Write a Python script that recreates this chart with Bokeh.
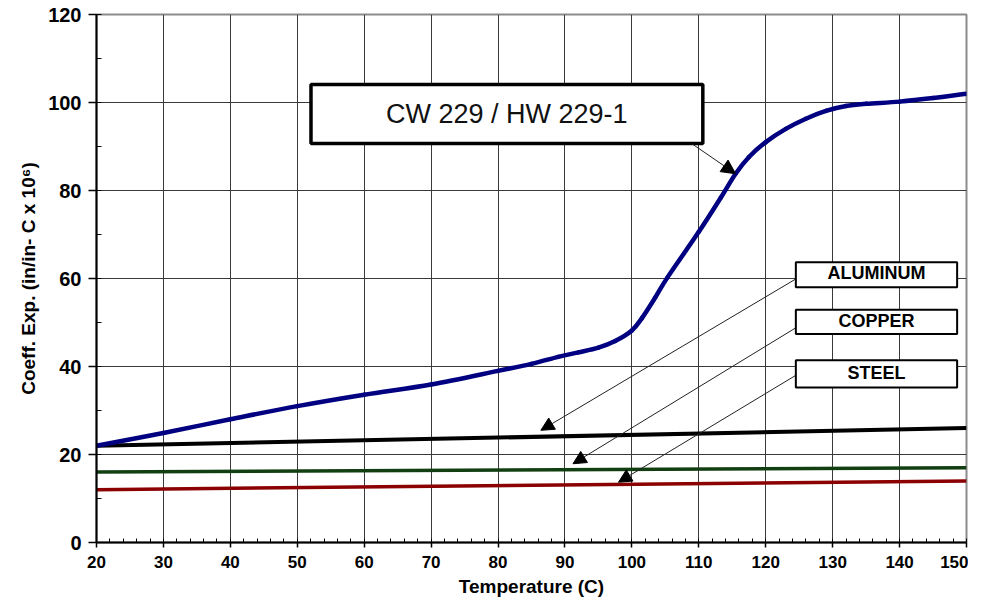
from bokeh.plotting import figure
from bokeh.models import (Range1d, SingleIntervalTicker, Arrow, NormalHead,
                          Label, BoxAnnotation)
from bokeh.embed import file_html
from bokeh.resources import INLINE

# ---- data ----
temp_cw = [20, 30, 40, 50, 60, 70, 80, 85, 89, 92, 95, 97.5, 100, 101.5, 103.5,
           105.3, 110, 113.3, 115.5, 117.5, 120, 123, 126, 129, 132, 135,
           140, 145, 150]
coef_cw = [22, 24.9, 28, 31, 33.6, 35.9, 39, 40.6, 42.2, 43.2, 44.3, 45.8, 48.2,
           51, 55.7, 60.2, 70.6, 78.4, 83.8, 87.6, 91, 94, 96.3, 98.1,
           99.2, 99.7, 100.2, 101.0, 102.0]
temp_metal = [20, 150]
coef_aluminum = [22, 26]
coef_copper = [16, 17]
coef_steel = [12, 14]

cw_label = "CW 229 / HW 229-1"
metal_labels = ["ALUMINUM", "COPPER", "STEEL"]
x_label = "Temperature (C)"
y_label = "Coeff. Exp. (in/in- C x 10\u2076)"

# ---- figure ----
p = figure(width=968, height=600, x_range=Range1d(20, 150), y_range=Range1d(0, 120),
           output_backend="svg", toolbar_location=None,
           min_border_left=96, min_border_right=2, min_border_top=14, min_border_bottom=58)
p.background_fill_color = "white"
p.border_fill_color = "white"
p.outline_line_color = "#8c8c8c"
p.outline_line_width = 2

p.xaxis.ticker = SingleIntervalTicker(interval=10, num_minor_ticks=5)
p.yaxis.ticker = SingleIntervalTicker(interval=20, num_minor_ticks=2)
p.xgrid.ticker = p.xaxis.ticker
p.ygrid.ticker = p.yaxis.ticker
for g in (p.xgrid, p.ygrid):
    g.grid_line_color = "#3a3a3a"
    g.grid_line_width = 1
    g.grid_line_alpha = 1.0

for ax in (p.xaxis, p.yaxis):
    ax.axis_line_color = "black"
    ax.axis_line_width = 2
    ax.major_tick_line_color = "black"
    ax.minor_tick_line_color = "black"
    ax.major_tick_line_width = 1.5
    ax.minor_tick_line_width = 1
    ax.major_label_text_font = "Liberation Sans"
    ax.axis_label_text_font = "Liberation Sans"
    ax.major_label_text_font_style = "bold"
    ax.axis_label_text_font_style = "bold"
    ax.major_label_text_color = "black"
    ax.axis_label_text_color = "black"

p.xaxis.major_tick_in = 0
p.xaxis.major_tick_out = 5
p.xaxis.minor_tick_in = 4
p.xaxis.minor_tick_out = 0
p.xaxis.major_label_text_font_size = "17px"
p.xaxis.major_label_standoff = 8
p.xaxis.axis_label = x_label
p.xaxis.axis_label_text_font_size = "19px"
p.xaxis.axis_label_standoff = 5

p.yaxis.major_tick_in = 0
p.yaxis.major_tick_out = 8
p.yaxis.minor_tick_in = 5
p.yaxis.minor_tick_out = 0
p.yaxis.major_label_text_font_size = "20px"
p.yaxis.major_label_standoff = 7
p.yaxis.axis_label = y_label
p.yaxis.axis_label_text_font_size = "19px"
p.yaxis.axis_label_standoff = 6

# ---- series ----
p.line(temp_metal, coef_steel, line_color="#8b0000", line_width=3.5)
p.line(temp_metal, coef_copper, line_color="#123f12", line_width=3.5)
p.line(temp_metal, coef_aluminum, line_color="black", line_width=4)

# smoothed line through the measured points (Catmull-Rom -> cubic Bezier)
n = len(temp_cw)
x0s, y0s, x1s, y1s, cx0s, cy0s, cx1s, cy1s = [], [], [], [], [], [], [], []
for i in range(n - 1):
    pa = (temp_cw[max(i - 1, 0)], coef_cw[max(i - 1, 0)])
    pb = (temp_cw[i], coef_cw[i])
    pc = (temp_cw[i + 1], coef_cw[i + 1])
    pd = (temp_cw[min(i + 2, n - 1)], coef_cw[min(i + 2, n - 1)])
    x0s.append(pb[0]); y0s.append(pb[1])
    x1s.append(pc[0]); y1s.append(pc[1])
    cx0s.append(pb[0] + (pc[0] - pa[0]) / 6.0)
    cy0s.append(pb[1] + (pc[1] - pa[1]) / 6.0)
    cx1s.append(pc[0] - (pd[0] - pb[0]) / 6.0)
    cy1s.append(pc[1] - (pd[1] - pb[1]) / 6.0)
p.bezier(x0=x0s, y0=y0s, x1=x1s, y1=y1s, cx0=cx0s, cy0=cy0s, cx1=cx1s, cy1=cy1s,
         line_color="#000080", line_width=4.5, line_cap="round")

# ---- annotations ----
p.add_layout(BoxAnnotation(left=52.05, right=110.6, bottom=90.7, top=104.1,
                           fill_color="white", fill_alpha=1.0,
                           line_color="black", line_alpha=1.0, line_width=3.5))
p.add_layout(Label(x=81.3, y=97.4, text=cw_label, text_align="center",
                   text_baseline="middle", text_font="Liberation Sans",
                   text_font_size="27px", text_color="#111111"))
p.add_layout(Arrow(x_start=109.0, y_start=90.6, x_end=115.5, y_end=83.8,
                   line_color="#222222", line_width=1,
                   end=NormalHead(size=14, fill_color="black", line_color="black")))

box_tops = [63.7, 52.9, 41.4]
box_bottoms = [58.0, 47.4, 35.2]
arrow_tips = [(86.4, 25.5), (91.2, 17.9), (98.0, 13.7)]
arrow_starts = [59.9, 48.8, 38.0]
for name, t, b, tip, ys in zip(metal_labels, box_tops, box_bottoms, arrow_tips, arrow_starts):
    p.add_layout(Arrow(x_start=124.5, y_start=ys, x_end=tip[0], y_end=tip[1],
                       line_color="#222222", line_width=1,
                       end=NormalHead(size=13, fill_color="black", line_color="black")))
    p.add_layout(BoxAnnotation(left=124.5, right=148.6, bottom=b, top=t,
                               fill_color="white", fill_alpha=1.0,
                               line_color="black", line_alpha=1.0, line_width=2))
    p.add_layout(Label(x=136.55, y=(t + b) / 2 + 0.3, text=name, text_align="center",
                       text_baseline="middle", text_font="Liberation Sans",
                       text_font_style="bold", text_font_size="18px",
                       text_color="black"))

open("out.html", "w").write(file_html(p, INLINE))
